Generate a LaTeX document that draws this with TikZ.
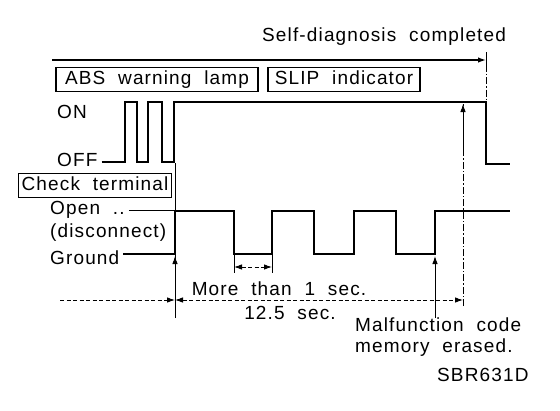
\documentclass[tikz,border=0pt]{standalone}
\usepackage{fontspec}
\setmainfont{Liberation Sans}[LetterSpace=6,WordSpace=2]
\usetikzlibrary{arrows.meta,positioning}

\begin{document}
\begin{tikzpicture}[
    x=1pt, y=-1pt,
    every node/.style={font=\fontsize{19}{22}\selectfont, inner sep=0pt, text height=13.5pt, text depth=0pt},
    lbl/.style={anchor=west},
    framebox/.style={draw, line width=1.3pt, text depth=3pt, inner xsep=3pt, inner ysep=4pt, minimum height=24pt},
    sig/.style={line width=2.4pt, line join=miter},
    thinline/.style={line width=0.9pt},
    dashdot/.style={thinline, dash pattern=on 7pt off 2pt on 1.5pt off 2pt},
    dimline/.style={thinline, dash pattern=on 4pt off 2.5pt},
    tip/.style={-{Latex[length=8pt,width=5.5pt]}},
    bothtip/.style={{Latex[length=8pt,width=5.5pt]}-{Latex[length=8pt,width=5.5pt]}}
]
\useasboundingbox (0,0) rectangle (560,410);

% headings
\node[lbl] (done) at (262,35) {Self-diagnosis completed};
\node[framebox, minimum width=202pt] (abs) at (157,79.5) {ABS warning lamp};
\node[framebox, minimum width=152pt] (slip) at (344,79.5) {SLIP indicator};
\node[framebox, minimum width=150pt] (check) at (95,185.5) {Check terminal};

% level labels
\node[lbl] (on) at (57,112) {ON};
\node[lbl] (off) at (57,160) {OFF};
\node[lbl] (open) at (50,208) {Open ..};
\node[lbl] (disc) at (50,231) {(disconnect)};
\node[lbl] (gnd) at (50,258) {Ground};

% time marks
\coordinate (start) at (52,60);
\coordinate (endtop) at (486,52);
\coordinate (endon) at (486,102);
\coordinate (t0top) at (175,163);
\coordinate (t0gnd) at (175,256);
\coordinate (t0bot) at (175,318);
\coordinate (lastgnd) at (435,256);
\coordinate (lastbot) at (435,318);
\coordinate (eraseon) at (463,104);
\coordinate (erasebot) at (463,306);

% warning lamp signal
\draw[sig] (off.east |- 0,162) ++(4,0) -- (125,162) -- (125,102) -- (137,102) -- (137,162)
    -- (148,162) -- (148,102) -- (162,102) -- (162,162) -- (174,162) -- (174,102)
    -- (486,102) -- (486,164) -- (510,164);

% check terminal signal
\draw[thinline] (open.east |- 0,210) ++(4,0) -- (175,210);
\draw[sig] (gnd.east |- 0,254) ++(4,0) -- (175,254) -- (175,211) -- (234,211) -- (234,254)
    -- (272,254) -- (272,211) -- (314,211) -- (314,254) -- (354,254) -- (354,211)
    -- (396,211) -- (396,254) -- (435,254) -- (435,211) -- (510,211);

% self-diagnosis
\draw[tip, line width=1.3pt] (start) -- (endtop |- start);
\draw[dashdot] (endtop) -- (endon);
\draw[thinline] (endtop) -- ++(0,14);

% verticals
\draw[thinline] (t0top) -- (t0bot);
\draw[tip, thinline] (t0bot) -- (t0gnd);
\draw[tip, thinline] (lastbot) -- (lastgnd);
\draw[dashdot] (erasebot) -- (eraseon);
\draw[tip, thinline] (463,150) -- (eraseon);

% more than 1 sec
\coordinate (lowa) at (234,254);
\coordinate (lowb) at (272,254);
\draw[thinline] (lowa) -- ++(0,19);
\draw[thinline] (lowb) -- ++(0,19);
\draw[bothtip, dimline] ([yshift=-13pt]lowa) -- ([yshift=-13pt]lowb);
\node (more) at (279,289) {More than 1 sec.};

% 12.5 sec
\coordinate (lead) at (60,300);
\draw[tip, dimline] (lead) -- (t0bot |- lead);
\draw[bothtip, dimline] (t0bot |- lead) -- (erasebot |- lead);
\node (total) at (290,313) {12.5 sec.};

% note
\node[lbl] (erase1) at (355,325) {Malfunction code};
\node[lbl] (erase2) at (355,346) {memory erased.};
\node[lbl] (code) at (437,375) {SBR631D};
\end{tikzpicture}
\end{document}
